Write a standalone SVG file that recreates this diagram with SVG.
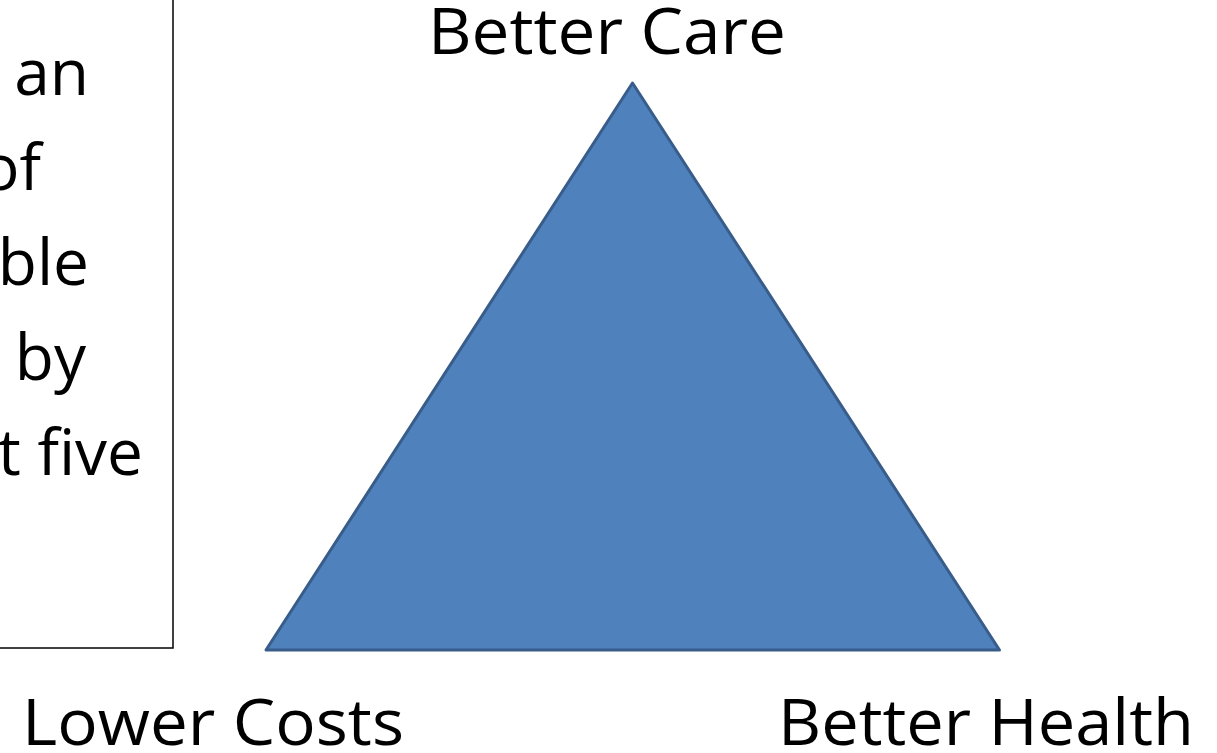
<svg xmlns="http://www.w3.org/2000/svg" width="1217" height="753" viewBox="0 0 1217 753">
  <style>
    .lbl { font-family: "Open Sans", "Liberation Sans", sans-serif; font-size: 64px; fill: #000; }
  </style>
  <rect x="0" y="0" width="1217" height="753" fill="#ffffff"/>
  <g id="textbox">
    <rect x="-10" y="-10" width="183" height="658" fill="#ffffff" stroke="#000" stroke-width="1.5"/>
    <text class="lbl" x="89" y="95" text-anchor="end">an</text>
    <text class="lbl" x="41" y="190" text-anchor="end">of</text>
    <text class="lbl" x="89" y="285" text-anchor="end">ble</text>
    <text class="lbl" x="86" y="380" text-anchor="end">by</text>
    <text class="lbl" x="143" y="475" text-anchor="end">t five</text>
  </g>
  <g id="triangle">
    <polygon points="632.5,83 266,650 999.5,650" fill="#4f81bd" stroke="#385d8a" stroke-width="3" stroke-linejoin="round"/>
  </g>
  <g id="label-care">
    <text class="lbl" x="428" y="54" textLength="358" lengthAdjust="spacingAndGlyphs">Better Care</text>
  </g>
  <g id="label-costs">
    <text class="lbl" x="22" y="745" textLength="382" lengthAdjust="spacingAndGlyphs">Lower Costs</text>
  </g>
  <g id="label-health">
    <text class="lbl" x="778" y="745" textLength="416" lengthAdjust="spacingAndGlyphs">Better Health</text>
  </g>
  <g id="connectors"></g>
</svg>
